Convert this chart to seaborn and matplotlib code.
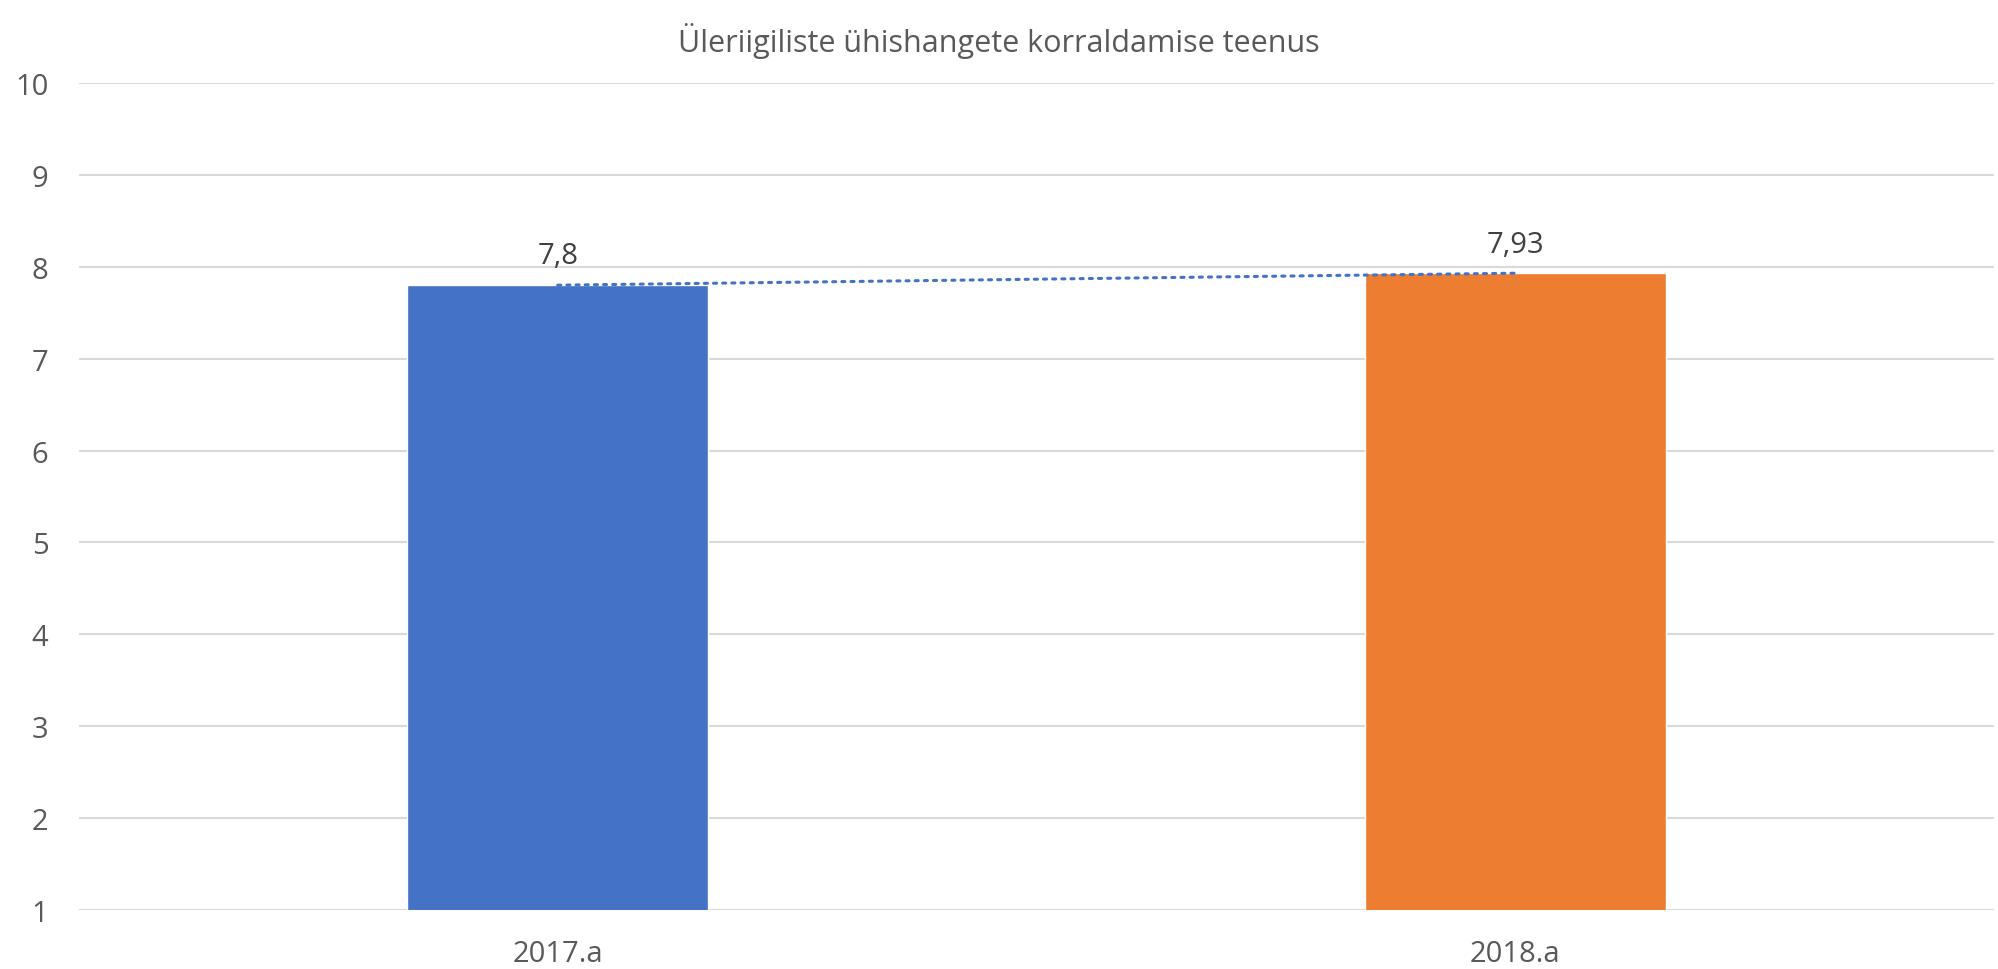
import pandas as pd
import seaborn as sns
import matplotlib.pyplot as plt

years = ["2017.a", "2018.a"]
scores = [7.8, 7.93]
score_labels = ["7,8", "7,93"]
bar_colors = ["#4472C4", "#ED7D31"]
title = "Üleriigiliste ühishangete korraldamise teenus"

sns.set_style("white")
plt.rcParams["font.family"] = ["Open Sans", "DejaVu Sans"]
txt = "#595959"

data = pd.DataFrame({"year": years, "score": scores})

fig = plt.figure(figsize=(19.98, 9.70), dpi=100)
ax = fig.add_axes([0.0395, 0.0608, 0.9585, 0.8526])

sns.barplot(data=data, x="year", y="score", hue="year", palette=bar_colors,
            saturation=1, width=0.314, legend=False, ax=ax, zorder=2)

# linear trend between the two years
sns.lineplot(data=data, x="year", y="score", ax=ax, color="#4472C4",
             linewidth=2.2, linestyle=(0, (1, 2)), dash_capstyle="round",
             zorder=3)

for i, (v, lab) in enumerate(zip(scores, score_labels)):
    ax.annotate(lab, (i, v), xytext=(0, 21), textcoords="offset points",
                ha="center", va="center", fontsize=21, color="#404040")

ax.set_ylim(1, 10)
ax.set_xlim(-0.5, 1.5)
ax.set_yticks(range(1, 11))
ax.yaxis.grid(True, color="#D9D9D9", linewidth=1.5, zorder=0)
ax.set_axisbelow(True)
for s in ax.spines.values():
    s.set_visible(False)
ax.tick_params(axis="both", length=0, labelsize=21, labelcolor=txt)
ax.tick_params(axis="y", pad=22)
ax.tick_params(axis="x", pad=21)
ax.set_xlabel("")
ax.set_ylabel("")
fig.suptitle(title, y=0.976, fontsize=22, color=txt)

fig.savefig("out.png", dpi=100)
